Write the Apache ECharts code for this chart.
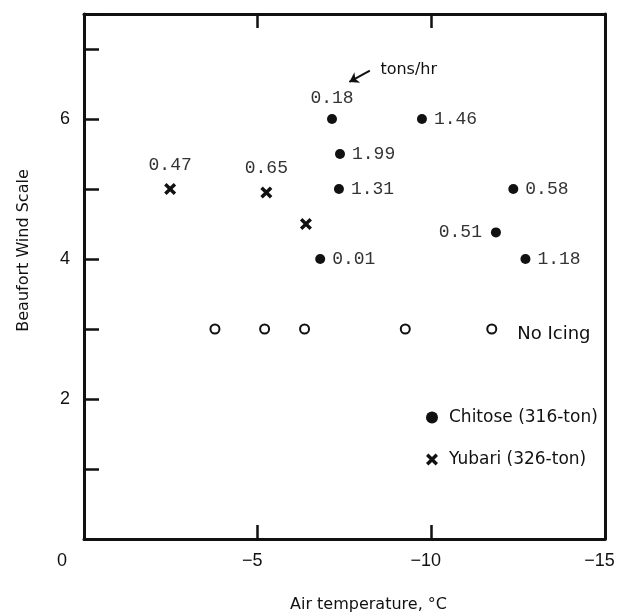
<!DOCTYPE html>
<html>
<head>
<meta charset="utf-8">
<script src="https://cdn.jsdelivr.net/npm/echarts@6/dist/echarts.min.js"></script>
<style>
html, body { margin: 0; padding: 0; background: #fff; }
#chart { width: 618px; height: 616px; }
</style>
</head>
<body>
<div id="chart"></div>
<script>
// Chitose (316-ton): air temperature (°C), Beaufort scale, icing rate (tons/hr)
const chitoseTemp = [-7.14, -9.73, -7.37, -7.34, -6.80, -12.36, -11.86, -12.71];
const chitoseWind = [6, 6, 5.5, 5, 4, 5, 4.38, 4];
const chitoseRate = ['0.18', '1.46', '1.99', '1.31', '0.01', '0.58', '0.51', '1.18'];

// Yubari (326-ton)
const yubariTemp = [-2.48, -5.25, -6.39];
const yubariWind = [5, 4.95, 4.5];
const yubariRate = ['0.47', '0.65', ''];

// no icing observed
const noIcingTemp = [-3.77, -5.20, -6.35, -9.25, -11.74];
const noIcingWind = [3, 3, 3, 3, 3];

// "tons/hr" pointer, in data units
const arrowFrom = [-8.23, 6.69];
const arrowTo = [-7.64, 6.53];

const FONT = 'DejaVu Sans';
const NUM_FONT = 'Liberation Sans';
const MONO = 'Liberation Mono';
const INK = '#111';

// where each rate label sits relative to its point
const chitoseLabelPos = ['top', 'right', 'right', 'right', 'right', 'right', 'left', 'right'];
const xShape = 'path://M0,2L2,0L5,3L8,0L10,2L7,5L10,8L8,10L5,7L2,10L0,8L3,5Z';

const chart = echarts.init(document.getElementById('chart'));

const rateLabel = {
  fontFamily: MONO,
  fontSize: 18,
  color: '#333'
};

const frameLine = { onZero: false, lineStyle: { color: INK, width: 3 } };

chart.setOption({
  animation: false,
  backgroundColor: '#fff',
  grid: { left: 84, right: 13, top: 14, bottom: 77, outerBoundsMode: 'none' },
  legend: {
    orient: 'vertical',
    left: 421,
    top: 404,
    itemWidth: 12,
    itemHeight: 12,
    itemGap: 25,
    selectedMode: false,
    data: ['Chitose (316-ton)', 'Yubari (326-ton)'],
    textStyle: { fontFamily: FONT, fontSize: 17, color: INK, padding: [0, 0, 0, 6] }
  },
  xAxis: [
    {
      type: 'value',
      position: 'bottom',
      min: -15,
      max: 0,
      interval: 5,
      inverse: true,
      axisLine: frameLine,
      axisTick: { inside: true, length: 14, lineStyle: { color: INK, width: 2.5 } },
      splitLine: { show: false },
      axisLabel: {
        margin: 13,
        fontFamily: NUM_FONT,
        fontSize: 18,
        color: INK,
        // digits sit on the tick, the minus hangs to the left
        formatter: v => v === 0 ? '{z|0}' : '{n|\u2212' + Math.abs(v) + '}',
        rich: {
          z: { fontFamily: NUM_FONT, fontSize: 18, color: INK, padding: [0, 44, 0, 0] },
          n: { fontFamily: NUM_FONT, fontSize: 18, color: INK, padding: [0, 11, 0, 0] }
        }
      },
      name: 'Air temperature, \u00b0C',
      nameLocation: 'middle',
      nameGap: 58,
      nameTextStyle: { fontFamily: FONT, fontSize: 16, color: INK, padding: [0, 0, 0, 48] }
    },
    {
      type: 'value',
      position: 'top',
      min: -15,
      max: 0,
      interval: 5,
      inverse: true,
      axisLine: frameLine,
      axisTick: { inside: true, length: 14, lineStyle: { color: INK, width: 2.5 } },
      axisLabel: { show: false },
      splitLine: { show: false }
    }
  ],
  yAxis: [
    {
      type: 'value',
      position: 'left',
      min: 0,
      max: 7.5,
      interval: 1,
      axisLine: frameLine,
      axisTick: { inside: true, length: 15, lineStyle: { color: INK, width: 2.5 } },
      splitLine: { show: false },
      axisLabel: {
        margin: 14,
        fontFamily: NUM_FONT,
        fontSize: 18,
        color: INK,
        formatter: v => (v > 0 && v % 2 === 0) ? String(v) : ''
      },
      name: 'Beaufort Wind Scale',
      nameLocation: 'middle',
      nameGap: 52,
      nameTextStyle: { fontFamily: FONT, fontSize: 16, color: INK, padding: [0, 0, 0, 52] }
    },
    {
      type: 'value',
      position: 'right',
      min: 0,
      max: 7.5,
      axisLine: { show: true, onZero: false, lineStyle: { color: INK, width: 3 } },
      axisTick: { show: false },
      axisLabel: { show: false },
      splitLine: { show: false }
    }
  ],
  series: [
    {
      name: 'Chitose (316-ton)',
      type: 'scatter',
      symbol: 'circle',
      symbolSize: 10,
      itemStyle: { color: INK, opacity: 1 },
      label: Object.assign({ show: true, distance: 7 }, rateLabel),
      data: chitoseTemp.map((t, i) => ({
        value: [t, chitoseWind[i]],
        label: {
          formatter: chitoseRate[i],
          position: chitoseLabelPos[i],
          distance: chitoseLabelPos[i] === 'left' ? 9 : 7
        }
      })),
      markLine: {
        silent: true,
        symbol: ['none', 'arrow'],
        symbolSize: 9,
        lineStyle: { color: INK, width: 2, type: 'solid', opacity: 1 },
        label: {
          show: true,
          position: 'start',
          distance: 12,
          formatter: 'tons/hr',
          fontFamily: FONT,
          fontSize: 16,
          color: INK,
          offset: [0, 5]
        },
        data: [[{ coord: arrowFrom }, { coord: arrowTo }]]
      }
    },
    {
      name: 'Yubari (326-ton)',
      type: 'scatter',
      symbol: xShape,
      symbolSize: 12,
      itemStyle: { color: INK, opacity: 1 },
      label: Object.assign({ show: true, position: 'top', distance: 9 }, rateLabel),
      data: yubariTemp.map((t, i) => ({
        value: [t, yubariWind[i]],
        label: { formatter: yubariRate[i] }
      }))
    },
    {
      name: 'No Icing',
      type: 'scatter',
      symbol: 'circle',
      symbolSize: 9,
      itemStyle: { color: '#fff', borderColor: INK, borderWidth: 2, opacity: 1 },
      data: noIcingTemp.map((t, i) => ({
        value: [t, noIcingWind[i]],
        label: {
          show: i === noIcingTemp.length - 1,
          position: 'right',
          distance: 20,
          formatter: 'No Icing',
          fontFamily: FONT,
          fontSize: 18,
          color: INK,
          offset: [0, 5]
        }
      }))
    }
  ]
});

window.addEventListener('resize', () => {
  chart.resize();
});
</script>
</body>
</html>
